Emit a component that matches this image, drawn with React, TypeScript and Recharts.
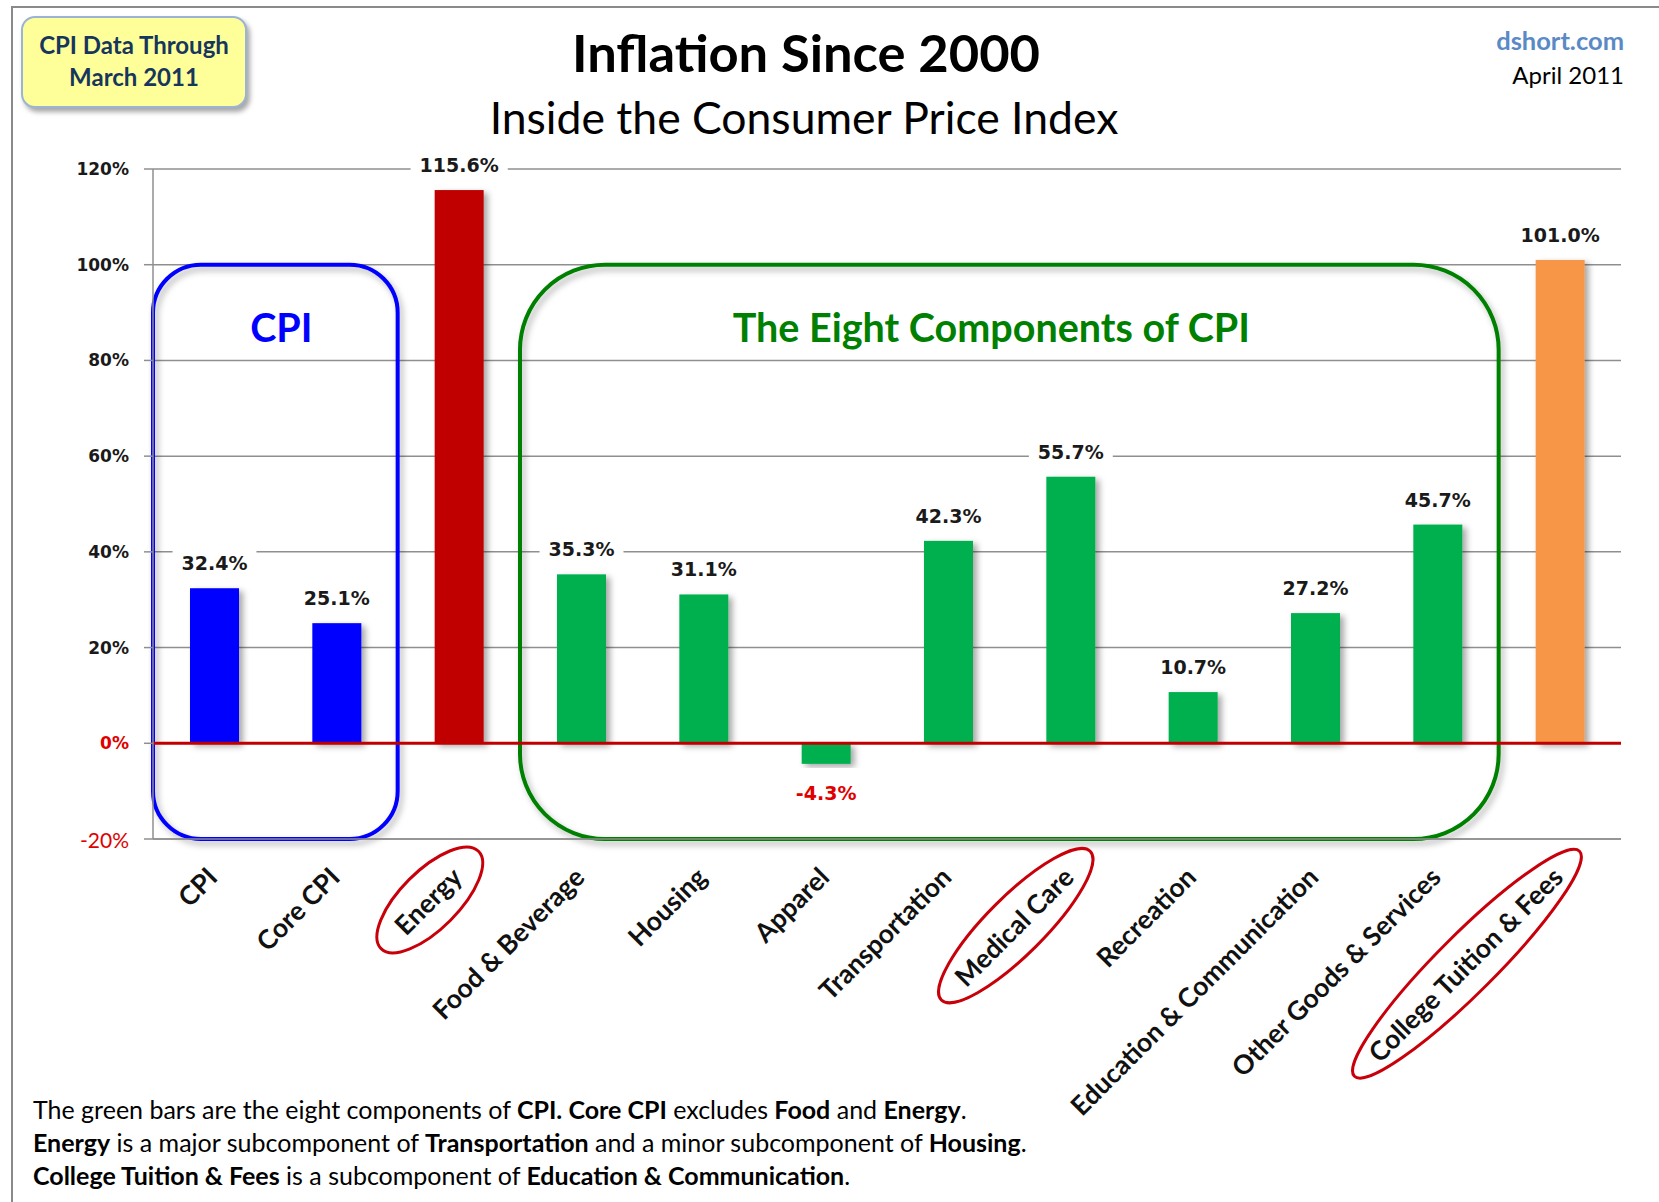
import React from "react";
import {
  BarChart,
  Bar,
  XAxis,
  YAxis,
  CartesianGrid,
  LabelList,
  ReferenceLine,
  ReferenceArea,
} from "recharts";

const categories = [
  "CPI",
  "Core CPI",
  "Energy",
  "Food & Beverage",
  "Housing",
  "Apparel",
  "Transportation",
  "Medical Care",
  "Recreation",
  "Education & Communication",
  "Other Goods & Services",
  "College Tuition & Fees",
];
const changes = [32.4, 25.1, 115.6, 35.3, 31.1, -4.3, 42.3, 55.7, 10.7, 27.2, 45.7, 101.0];
const yTicks = [-20, 0, 20, 40, 60, 80, 100, 120];
const circled = ["Energy", "Medical Care", "College Tuition & Fees"];

const barColors = [
  "#0000ff", "#0000ff", "#c00000",
  "#00b050", "#00b050", "#00b050", "#00b050", "#00b050", "#00b050", "#00b050", "#00b050",
  "#f79646",
];

const data = categories.map((name, i) => ({ name, value: changes[i] }));

const ctx = typeof document !== "undefined" ? document.createElement("canvas").getContext("2d") : null;
const measure = (t: string, font: string) => {
  if (!ctx) return t.length * 10;
  ctx.font = font;
  return ctx.measureText(t).width;
};

const VERDANA = "'DejaVu Sans', Verdana, sans-serif";
const CALIBRI = "Lato, 'Open Sans', sans-serif";

const ValueLabel = (props: any) => {
  const { x, y, width, height, value } = props;
  const top = Math.min(y, y + height);
  const bottom = Math.max(y, y + height);
  const neg = value < 0;
  const text = value.toFixed(1) + "%";
  const cx = x + width / 2;
  const cy = neg ? bottom + 29 : top - 25;
  const w = measure(text, `bold 19px ${VERDANA}`) + 18;
  return (
    <g>
      {!neg && <rect x={cx - w / 2} y={cy - 13} width={w} height={26} fill="#fff" />}
      <text
        x={cx}
        y={cy}
        textAnchor="middle"
        dominantBaseline="central"
        fontFamily={VERDANA}
        fontWeight="bold"
        fontSize={19}
        fill={neg ? "#e00000" : "#1a1a1a"}
      >
        {text}
      </text>
    </g>
  );
};

const XTick = (props: any) => {
  const { x, y, payload } = props;
  const label = payload.value as string;
  const fs = 26.5;
  const L = measure(label, `bold ${fs}px ${CALIBRI}`);
  return (
    <g transform={`translate(${x + 5},${y + 40}) rotate(-45)`}>
      {circled.includes(label) && (
        <ellipse
          cx={-L / 2 + 2}
          cy={-fs * 0.35}
          rx={L / 2 + 28}
          ry={29}
          fill="none"
          stroke="#c8000a"
          strokeWidth={3}
        />
      )}
      <text x={0} y={0} textAnchor="end" fontFamily={CALIBRI} fontWeight={700} fontSize={fs} fill="#111">
        {label}
      </text>
    </g>
  );
};

const YTick = (props: any) => {
  const { x, y, payload } = props;
  const v = payload.value as number;
  const neg = v < 0;
  return (
    <text
      x={x}
      y={y}
      textAnchor="end"
      dominantBaseline="central"
      fontFamily={neg ? CALIBRI : VERDANA}
      fontWeight={neg ? 400 : 700}
      fontSize={neg ? 21 : 17}
      fill={v <= 0 ? "#e00000" : "#1a1a1a"}
    >
      {v}%
    </text>
  );
};

const GroupBox = (props: any) => {
  const { x, y, width, height, r, color, title, dx } = props;
  return (
    <g>
      <rect
        x={x}
        y={y}
        width={width}
        height={height}
        rx={r}
        ry={r}
        fill="none"
        stroke={color}
        strokeWidth={4}
        filter="url(#boxShadow)"
      />
      <text
        x={x + width / 2 + dx}
        y={y + 62}
        textAnchor="middle"
        dominantBaseline="central"
        fontFamily={CALIBRI}
        fontWeight={700}
        fontSize={39.5}
        fill={color}
      >
        {title}
      </text>
    </g>
  );
};

const ShadowBar = (props: any) => {
  const { x, y, width, height, index } = props;
  return (
    <rect
      x={x}
      y={Math.min(y, y + height)}
      width={width}
      height={Math.abs(height)}
      fill={barColors[index]}
      filter="url(#barShadow)"
    />
  );
};

export default function App() {
  return (
    <div
      style={{
        position: "absolute",
        left: 0,
        top: 0,
        width: 1659,
        height: 1202,
        background: "#fff",
        overflow: "hidden",
        fontFamily: CALIBRI,
      }}
    >
      <svg width={0} height={0} style={{ position: "absolute" }}>
        <defs>
          <filter id="barShadow" x="-30%" y="-10%" width="160%" height="130%">
            <feDropShadow dx={4} dy={3} stdDeviation={3} floodColor="#000" floodOpacity={0.35} />
          </filter>
          <filter id="boxShadow" x="-10%" y="-10%" width="120%" height="120%">
            <feDropShadow dx={3} dy={4} stdDeviation={3} floodColor="#000" floodOpacity={0.3} />
          </filter>
        </defs>
      </svg>

      <div style={{ position: "absolute", left: 12, top: 6, width: 1647, height: 2, background: "#8a8a8a" }} />
      <div style={{ position: "absolute", left: 11, top: 6, width: 2, height: 1196, background: "#8a8a8a" }} />

      <div style={{ position: "absolute", left: 0, top: 0 }}>
        <BarChart
          width={1659}
          height={1202}
          data={data}
          margin={{ top: 169, right: 38, left: 73, bottom: 63 }}
          barSize={49}
        >
          <CartesianGrid vertical={false} stroke="#8f8f8f" strokeWidth={1.5} />
          <ReferenceArea
            x1="CPI"
            x2="Core CPI"
            y1={-20}
            y2={100}
            shape={(p: any) => <GroupBox {...p} r={48} color="#0000ff" title="CPI" dx={6} />}
          />
          <ReferenceArea
            x1="Food & Beverage"
            x2="Other Goods & Services"
            y1={-20}
            y2={100}
            shape={(p: any) => (
              <GroupBox {...p} r={85} color="#008000" title="The Eight Components of CPI" dx={-18} />
            )}
          />
          <XAxis
            dataKey="name"
            interval={0}
            height={300}
            tickLine={false}
            tickSize={0}
            tickMargin={0}
            axisLine={{ stroke: "#8f8f8f", strokeWidth: 1.5 }}
            tick={<XTick />}
          />
          <YAxis
            width={80}
            domain={[-20, 120]}
            ticks={yTicks}
            interval={0}
            tickSize={9}
            tickMargin={15}
            tickLine={{ stroke: "#8f8f8f", strokeWidth: 1.5 }}
            axisLine={{ stroke: "#8f8f8f", strokeWidth: 1.5 }}
            tick={<YTick />}
          />
          <Bar dataKey="value" isAnimationActive={false} shape={<ShadowBar />}>
            <LabelList dataKey="value" content={<ValueLabel />} />
          </Bar>
          <ReferenceLine y={0} stroke="#c00000" strokeWidth={3} />
        </BarChart>
      </div>

      <div
        style={{
          position: "absolute",
          left: 21,
          top: 16,
          width: 226,
          height: 92,
          boxSizing: "border-box",
          background: "#ffff99",
          border: "2px solid #9bb3d4",
          borderRadius: 14,
          boxShadow: "3px 4px 5px rgba(0,0,0,0.35)",
          textAlign: "center",
          paddingTop: 11,
          fontWeight: 700,
          fontSize: 24,
          lineHeight: "32px",
          color: "#17365d",
        }}
      >
        CPI Data Through
        <br />
        March 2011
      </div>

      <div
        style={{
          position: "absolute",
          left: 406,
          top: 23,
          width: 800,
          textAlign: "center",
          fontWeight: 700,
          fontSize: 52.5,
          lineHeight: "58px",
          color: "#000",
        }}
      >
        Inflation Since 2000
      </div>
      <div
        style={{
          position: "absolute",
          left: 404,
          top: 91,
          width: 800,
          textAlign: "center",
          fontWeight: 400,
          fontSize: 44.5,
          lineHeight: "52px",
          color: "#000",
        }}
      >
        Inside the Consumer Price Index
      </div>

      <div
        style={{
          position: "absolute",
          right: 35,
          top: 25,
          textAlign: "right",
          fontWeight: 700,
          fontSize: 25.5,
          lineHeight: "30px",
          color: "#5a8ac6",
        }}
      >
        dshort.com
      </div>
      <div
        style={{
          position: "absolute",
          right: 35,
          top: 60,
          textAlign: "right",
          fontSize: 24,
          lineHeight: "30px",
          color: "#000",
        }}
      >
        April 2011
      </div>

      <div
        style={{
          position: "absolute",
          left: 33,
          top: 1093,
          fontSize: 25,
          lineHeight: "33px",
          color: "#000",
          whiteSpace: "nowrap",
        }}
      >
        The green bars are the eight components of <b>CPI. Core CPI</b> excludes <b>Food</b> and{" "}
        <b>Energy</b>.
        <br />
        <b>Energy</b> is a major subcomponent of <b>Transportation</b> and a minor subcomponent of{" "}
        <b>Housing</b>.
        <br />
        <b>College Tuition &amp; Fees</b> is a subcomponent of <b>Education &amp; Communication</b>.
      </div>
    </div>
  );
}
